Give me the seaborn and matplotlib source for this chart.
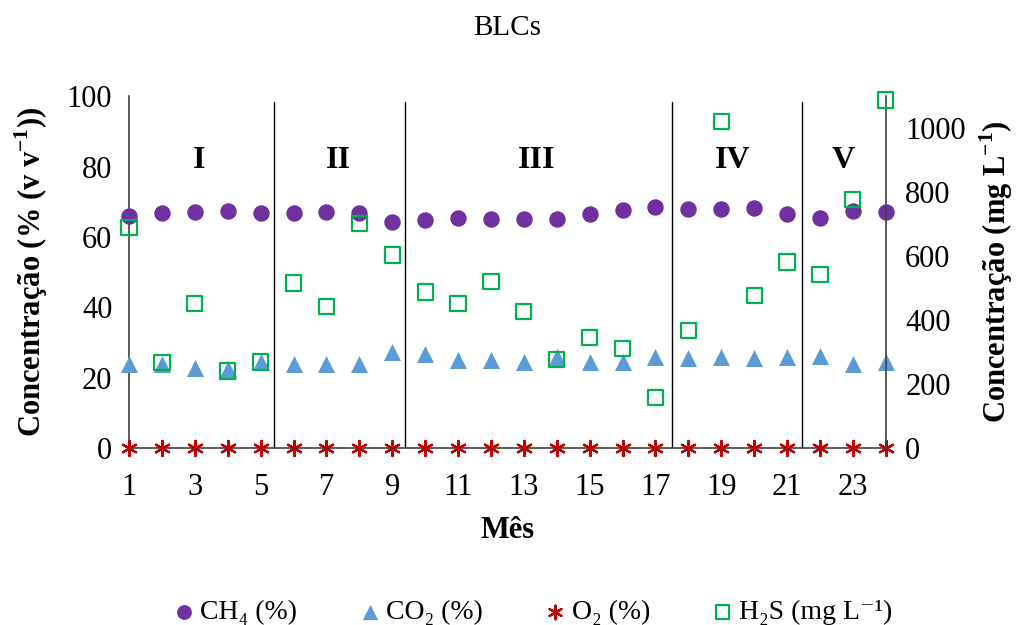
import matplotlib
matplotlib.use("Agg")
import matplotlib.pyplot as plt
import seaborn as sns

# monthly biogas data (BLCs)
months = list(range(1, 25))
ch4 = [66.0, 66.7, 67.0, 67.3, 66.8, 66.7, 67.1, 66.9, 64.3, 64.9, 65.4, 65.0,
       65.2, 65.2, 66.6, 67.7, 68.5, 68.0, 68.0, 68.2, 66.6, 65.3, 67.3, 67.1]
co2 = [24.0, 23.9, 22.9, 22.5, 24.4, 24.0, 24.0, 23.9, 27.4, 26.7, 25.0, 25.0,
       24.4, 25.9, 24.4, 24.5, 25.9, 25.7, 25.9, 25.7, 25.9, 26.3, 24.0, 24.5]
o2 = [0.0] * 24
h2s = [690, 268, 452, 241, 269, 516, 443, 701, 604, 488, 451, 521,
       427, 278, 345, 311, 159, 368, 1021, 476, 582, 543, 778, 1088]

# phases
phase_names = ["I", "II", "III", "IV", "V"]
phase_centers = [3.13, 7.35, 13.4, 19.36, 22.7]
phase_breaks = [5.4, 9.4, 17.5, 21.45]

sns.set_style("white")
plt.rcParams['font.family'] = ['Liberation Serif', 'DejaVu Serif']
plt.rcParams['mathtext.fontset'] = 'custom'
plt.rcParams['mathtext.rm'] = 'Liberation Serif'
plt.rcParams['mathtext.bf'] = 'Liberation Serif:bold'
plt.rcParams['text.color'] = 'black'
plt.rcParams['axes.labelcolor'] = 'black'
plt.rcParams['xtick.color'] = 'black'
plt.rcParams['ytick.color'] = 'black'

fig, ax = plt.subplots(figsize=(10.24, 6.25), dpi=100)
fig.subplots_adjust(left=0.126, right=0.865, bottom=0.283, top=0.846)
ax2 = ax.twinx()

# left axis series
sns.scatterplot(x=months, y=ch4, ax=ax, marker='o', color='#7030A0', s=140,
                linewidth=0, clip_on=False, zorder=3, label='CH₄ (%)')
sns.scatterplot(x=months, y=co2, ax=ax, marker='^', color='#5B9BD5', s=150,
                linewidth=0, clip_on=False, zorder=3, label='CO₂ (%)')
sns.scatterplot(x=months, y=o2, ax=ax, marker=(6, 2, 0), color='#C00000', s=120,
                linewidth=1.6, clip_on=False, zorder=4, label='O₂ (%)')

# right axis series (open squares)
sns.scatterplot(x=months, y=h2s, ax=ax2, marker='s', color='#00B050', s=120,
                linewidth=1.6, clip_on=False, zorder=5, label='H₂S (mg L⁻¹)')
sq = ax2.collections[-1]
sq.set_facecolor('none')
sq.set_edgecolor('#00B050')

for a in (ax, ax2):
    if a.get_legend() is not None:
        a.get_legend().remove()

# phase separators and labels
for xb in phase_breaks:
    ax.axvline(xb, ymax=0.983, color='black', linewidth=1)
for name, xc in zip(phase_names, phase_centers):
    ax.text(xc, 81.8, name, ha='center', va='center', fontsize=23, fontweight='bold')

ax.set_xlim(1, 24)
ax.set_ylim(0, 100)
ax2.set_ylim(0, 1100)
ax.set_xticks(list(range(1, 24, 2)))
ax.set_yticks([0, 20, 40, 60, 80, 100])
ax2.set_yticks([0, 200, 400, 600, 800, 1000])
ax.tick_params(axis='x', labelsize=22, length=0, pad=18)
ax.tick_params(axis='y', labelsize=22, length=0, pad=12)
ax2.tick_params(axis='y', labelsize=22, length=0, pad=14)

ax.set_xlabel('Mês', fontsize=22, fontweight='bold', labelpad=10)
ax.set_ylabel(r'Concentração (% (v v$^{\mathbf{-1}}$))', fontsize=22, fontweight='bold', labelpad=12)
ax2.set_ylabel(r'Concentração (mg L$^{\mathbf{-1}}$)', fontsize=22, fontweight='bold', labelpad=8)
ax.set_title('BLCs', fontsize=21, pad=44)

for a in (ax, ax2):
    a.spines['top'].set_visible(False)
    for sp in ('left', 'right', 'bottom'):
        a.spines[sp].set_color('#404040')
        a.spines[sp].set_linewidth(1.2)
ax.spines['right'].set_visible(False)
ax2.spines['left'].set_visible(False)
ax2.spines['bottom'].set_visible(False)

# combined legend below the plot
h1, l1 = ax.get_legend_handles_labels()
h2, l2 = ax2.get_legend_handles_labels()
fig.legend(h1 + h2, l1 + l2, loc='lower center', bbox_to_anchor=(0.52, -0.04),
           ncol=4, frameon=False, fontsize=20, columnspacing=2.2,
           handlelength=0.8, handletextpad=0.2, markerscale=0.9)

plt.savefig('out.png', dpi=100)
